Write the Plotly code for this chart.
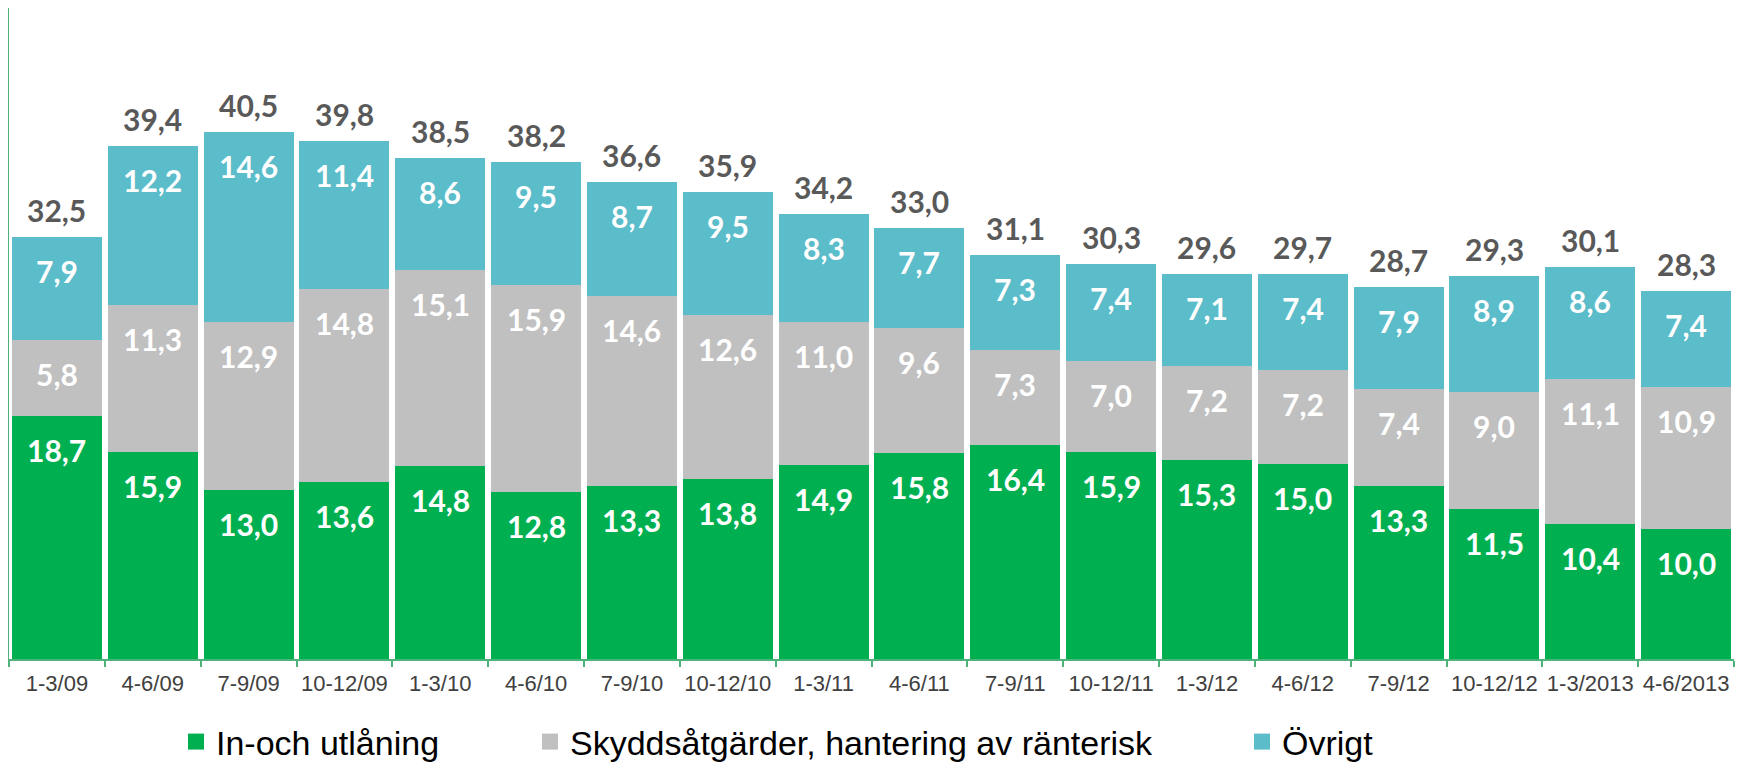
import plotly.graph_objects as go

categories = ["1-3/09", "4-6/09", "7-9/09", "10-12/09", "1-3/10", "4-6/10", "7-9/10", "10-12/10",
              "1-3/11", "4-6/11", "7-9/11", "10-12/11", "1-3/12", "4-6/12", "7-9/12", "10-12/12",
              "1-3/2013", "4-6/2013"]
in_och_utlaning = [18.7, 15.9, 13.0, 13.6, 14.8, 12.8, 13.3, 13.8, 14.9, 15.8, 16.4, 15.9, 15.3, 15.0, 13.3, 11.5, 10.4, 10.0]
skyddsatgarder = [5.8, 11.3, 12.9, 14.8, 15.1, 15.9, 14.6, 12.6, 11.0, 9.6, 7.3, 7.0, 7.2, 7.2, 7.4, 9.0, 11.1, 10.9]
ovrigt = [7.9, 12.2, 14.6, 11.4, 8.6, 9.5, 8.7, 9.5, 8.3, 7.7, 7.3, 7.4, 7.1, 7.4, 7.9, 8.9, 8.6, 7.4]
totals = [32.5, 39.4, 40.5, 39.8, 38.5, 38.2, 36.6, 35.9, 34.2, 33.0, 31.1, 30.3, 29.6, 29.7, 28.7, 29.3, 30.1, 28.3]

series_names = ["In-och utlåning", "Skyddsåtgärder, hantering av ränterisk", "Övrigt"]
series_values = [in_och_utlaning, skyddsatgarder, ovrigt]
series_colors = ["#00B050", "#C0C0C0", "#5BBCCA"]
legend_ids = ["legend", "legend2", "legend3"]

# page body has an 8px default margin, so the figure is drawn at (8, 8)
W, H = 1744, 756
LABEL_FONT = "Lato, 'Open Sans', sans-serif"
AXIS_FONT = "'Liberation Sans', Arial, sans-serif"
AXIS_GREEN = "#4DB37A"


def fmt(v):
    return f"{v:.1f}".replace(".", ",")


fig = go.Figure()
for name, vals, col in zip(series_names, series_values, series_colors):
    fig.add_trace(go.Bar(x=categories, y=vals, name=name, marker=dict(color=col, line=dict(width=0)),
                         showlegend=False, hoverinfo="x+y+name"))

# legend proxies (square symbols)
for name, col, lg in zip(series_names, series_colors, legend_ids):
    fig.add_trace(go.Scatter(x=[None], y=[None], mode="markers", name=name,
                             marker=dict(symbol="square", size=16, color=col),
                             legend=lg, showlegend=True, hoverinfo="skip"))

annotations = []
base = [0.0] * len(categories)
for vals in series_values:
    for i, (c, v) in enumerate(zip(categories, vals)):
        top = base[i] + v
        annotations.append(dict(x=c, y=top, xref="x", yref="y", text="<b>" + fmt(v) + "</b>",
                                showarrow=False, yanchor="middle", xanchor="center", yshift=-34,
                                font=dict(family=LABEL_FONT, size=30, color="white")))
        base[i] = top
for i, (c, t) in enumerate(zip(categories, totals)):
    annotations.append(dict(x=c, y=base[i], xref="x", yref="y", text="<b>" + fmt(t) + "</b>",
                            showarrow=False, yanchor="middle", xanchor="center", yshift=27,
                            font=dict(family=LABEL_FONT, size=30, color="#595959")))

legend_common = dict(orientation="h", xref="container", yref="container", xanchor="left", yanchor="middle",
                     y=1 - 734 / H, font=dict(family=AXIS_FONT, size=34, color="#000000"),
                     bgcolor="rgba(0,0,0,0)", itemclick=False, itemdoubleclick=False)
legend_x_px = [168, 522, 1234]

fig.update_layout(
    width=W, height=H,
    margin=dict(l=1, r=18, t=0, b=105, pad=0),
    paper_bgcolor="white", plot_bgcolor="white",
    barmode="stack", bargap=0.06,
    annotations=annotations,
    legend=dict(**legend_common, x=legend_x_px[0] / W),
    legend2=dict(**legend_common, x=legend_x_px[1] / W),
    legend3=dict(**legend_common, x=legend_x_px[2] / W),
    xaxis=dict(type="category", showline=True, linecolor=AXIS_GREEN, linewidth=1.5,
               ticks="outside", tickson="boundaries", ticklen=6, tickcolor=AXIS_GREEN, tickwidth=1.5,
               tickfont=dict(family=AXIS_FONT, size=22, color="#404040"), tickangle=0,
               ticklabelstandoff=4, automargin=False,
               showgrid=False, zeroline=False, fixedrange=True),
    yaxis=dict(range=[0, 50], showline=True, linecolor=AXIS_GREEN, linewidth=1.5, automargin=False,
               showticklabels=False, ticks="", showgrid=False, zeroline=False, fixedrange=True),
)

fig.write_html("out.html")
